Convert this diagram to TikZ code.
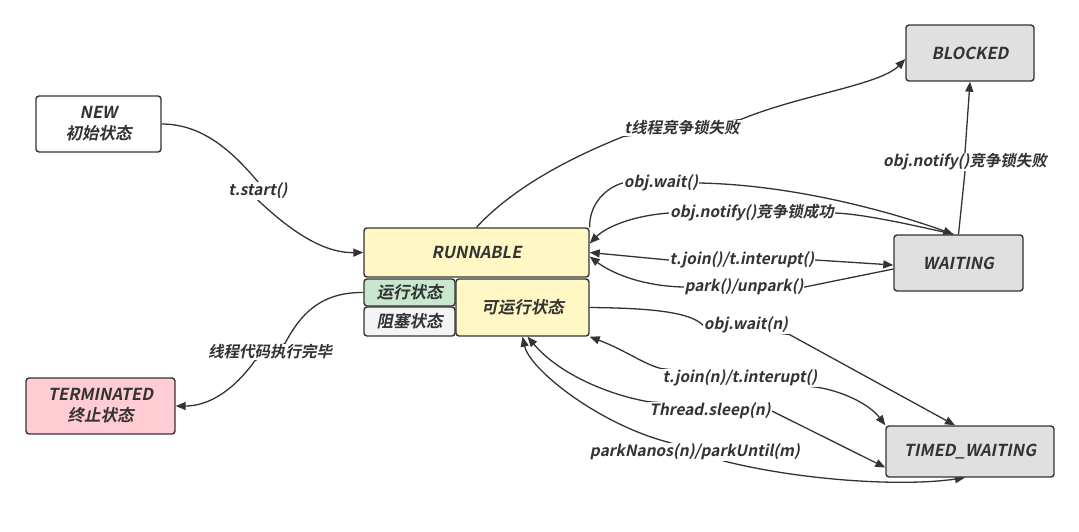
\documentclass[tikz,border=0pt]{standalone}
\usepackage{fontspec}
\newfontfamily\statefont{Noto Sans CJK SC Bold}[FakeSlant=0.2]
\usetikzlibrary{arrows.meta,backgrounds}
\definecolor{ink}{HTML}{333333}
\definecolor{runyellow}{HTML}{FFF8C5}
\definecolor{rungreen}{HTML}{C9E7CF}
\definecolor{blkgray}{HTML}{F4F4F4}
\definecolor{boxgray}{HTML}{E0E0E0}
\definecolor{endpink}{HTML}{FFCCD3}

\begin{document}
\begin{tikzpicture}[x=1pt,y=-1pt,>={Triangle[length=10pt,width=8pt]},
	state/.style={draw=ink, line width=1.4pt, rounded corners=3pt, inner sep=0pt, align=center, text=ink, font=\statefont\fontsize{16.5}{21}\selectfont},
	lbl/.style={fill=white, inner sep=1pt, text=ink, font=\statefont\fontsize{15.5}{17}\selectfont},
	tr/.style={draw=ink, line width=1.3pt}]
			\useasboundingbox (0,0) rectangle (1079,531);
			\node[state, fill=white, minimum width=125pt, minimum height=56pt] (new) at (98.5,124) {NEW\\初始状态};
			\node[state, fill=endpink, minimum width=149pt, minimum height=56pt] (term) at (100.5,406) {TERMINATED\\终止状态};
			\node[state, fill=runyellow, minimum width=225pt, minimum height=49pt] (run) at (476.5,252.5) {RUNNABLE};
			\node[state, fill=rungreen, minimum width=91pt, minimum height=27pt] (runst) at (409.5,292.5) {运行状态};
			\node[state, fill=blkgray, minimum width=91pt, minimum height=29pt] (blkst) at (409.5,321.5) {阻塞状态};
			\node[state, fill=runyellow, minimum width=133pt, minimum height=57pt] (ready) at (522.5,307.5) {可运行状态};
			\node[state, fill=boxgray, minimum width=128pt, minimum height=56pt] (blocked) at (970,53) {BLOCKED};
			\node[state, fill=boxgray, minimum width=129pt, minimum height=56pt] (waiting) at (958.5,263) {WAITING};
			\node[state, fill=boxgray, minimum width=168pt, minimum height=51pt] (timed) at (970,451.5) {TIMED\_WAITING};

			\node[lbl] (tstart) at (258,191) {t.start()};
			\node[lbl] (lockfail) at (682,128) {t线程竞争锁失败};
			\node[lbl] (notifyfail) at (965,162) {obj.notify()竞争锁失败};
			\node[lbl] (owait) at (661,183) {obj.wait()};
			\node[lbl] (notifyok) at (752,213) {obj.notify()竞争锁成功};
			\node[lbl] (tjoin) at (742,260) {t.join()/t.interupt()};
			\node[lbl] (park) at (744,287) {park()/unpark()};
			\node[lbl] (owaitn) at (746,325) {obj.wait(n)};
			\node[lbl] (tjoinn) at (740,378) {t.join(n)/t.interupt()};
			\node[lbl] (sleep) at (710,411) {Thread.sleep(n)};
			\node[lbl] (pnanos) at (695,452) {parkNanos(n)/parkUntil(m)};
			\node[lbl] (codeend) at (270,352) {线程代码执行完毕};

			\begin{scope}[on background layer]
			\draw[tr,->] (new.east) .. controls (205,124) and (235,155) .. (tstart.north) -- (tstart.south) .. controls (300,240) and (330,253) .. (run.west);
			\draw[tr,->] (run.north) .. controls (520,180) and (590,150) .. (lockfail.south west) -- (lockfail.north east) .. controls (800,95) and (880,85) .. ([yshift=-6pt]blocked.west);
			\draw[tr,->] (waiting.north) -- (notifyfail.south) -- (notifyfail.north) -- (blocked.south);
			\draw[tr,->] (run.north east) .. controls (589,205) and (605,188) .. (owait.west) -- (owait.east) .. controls (800,185) and (900,215) .. (waiting.100);
			\draw[tr,->] (waiting.100) .. controls (900,222) and (860,214) .. (notifyok.east) -- (notifyok.west) .. controls (630,216) and (605,228) .. ([yshift=9pt]run.east);
			\draw[tr,<->] (run.east) -- (tjoin.west) -- (tjoin.east) -- ([yshift=-2pt]waiting.west);
			\draw[tr,->] ([yshift=-6pt]waiting.west) -- (park.east) -- (park.west) .. controls (640,286) and (610,272) .. ([yshift=-4pt]run.east);
			\draw[tr,->] (ready.east) .. controls (650,308) and (690,312) .. (owaitn.west) -- (owaitn.south east) -- ([xshift=-15pt]timed.north);
			\draw[tr,<->] (ready.south east) .. controls (625,350) and (645,365) .. (tjoinn.north west) -- (tjoinn.south east) .. controls (845,392) and (870,405) .. (timed.north west);
			\draw[tr,<->] ([xshift=5pt]ready.south) .. controls (560,375) and (610,395) .. (sleep.north west) -- (sleep.east) -- ([yshift=-16pt]timed.west);
			\draw[tr,<->] (ready.south) .. controls (530,370) and (600,425) .. ([xshift=-25pt]pnanos.north) -- ([xshift=30pt]pnanos.south) .. controls (800,480) and (900,487) .. ([xshift=-5pt]timed.south);
			\draw[tr,->] (runst.west) .. controls (320,292) and (300,315) .. ([xshift=15pt]codeend.north) -- ([xshift=-15pt]codeend.south) .. controls (230,395) and (205,406) .. (term.east);
			\end{scope}
		\end{tikzpicture}
\end{document}
